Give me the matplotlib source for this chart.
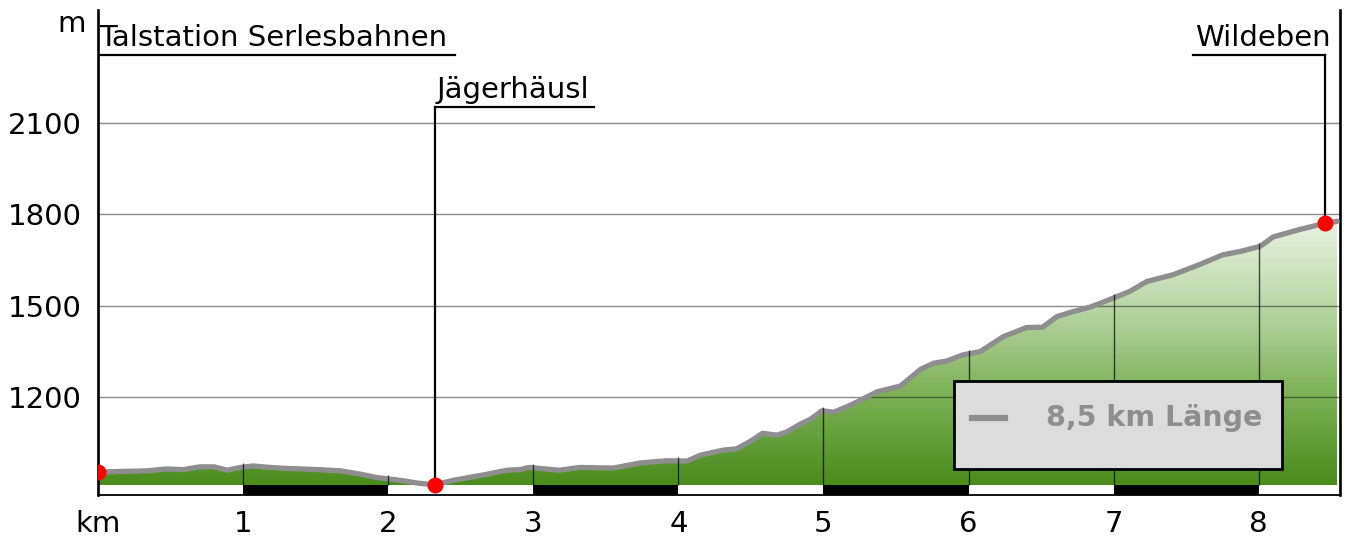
import numpy as np
import matplotlib
matplotlib.use("Agg")
import matplotlib.pyplot as plt
from matplotlib.patches import Rectangle
from matplotlib.colors import LinearSegmentedColormap

# Höhenprofil: Distanz in km, Höhe in m
km = [0.00, 0.17, 0.34, 0.47, 0.59, 0.70, 0.80, 0.89, 0.98, 1.07, 1.16, 1.25,
      1.35, 1.51, 1.67, 1.81, 1.92, 2.08, 2.20, 2.32, 2.45, 2.65, 2.82, 2.91,
      2.97, 3.18, 3.32, 3.55, 3.74, 3.92, 4.06, 4.15, 4.31, 4.40, 4.49, 4.58,
      4.68, 4.75, 4.84, 4.91, 4.99, 5.07, 5.19, 5.37, 5.53, 5.67, 5.76, 5.85,
      5.96, 6.08, 6.24, 6.40, 6.51, 6.61, 6.72, 6.84, 6.97, 7.11, 7.23, 7.41,
      7.59, 7.75, 7.87, 8.01, 8.10, 8.28, 8.46, 8.54]
hoehe = [954, 956, 958, 964, 962, 971, 971, 960, 969, 974, 970, 967,
         965, 962, 958, 947, 936, 927, 918, 912, 927, 944, 960, 962,
         969, 960, 969, 967, 984, 991, 990, 1009, 1026, 1030, 1053, 1081,
         1075, 1086, 1111, 1127, 1155, 1150, 1174, 1217, 1236, 1291, 1311, 1318,
         1338, 1349, 1398, 1428, 1429, 1464, 1480, 1495, 1519, 1546, 1579, 1601,
         1634, 1666, 1677, 1694, 1725, 1749, 1770, 1776]

orte = ["Talstation Serlesbahnen", "Jägerhäusl", "Wildeben"]
orte_km = [0.0, 2.32, 8.46]
orte_hoehe = [954, 912, 1770]

y_ticks = [1200, 1500, 1800, 2100]
x_ticks = [0, 1, 2, 3, 4, 5, 6, 7, 8]
x_labels = ["km", "1", "2", "3", "4", "5", "6", "7", "8"]
laenge_text = "8,5 km Länge"

# Layout
X_MAX = 8.56
Y_MIN, Y_MAX = 878.7, 2469
BODEN = 910
FS = 21
# Beschriftungslinien: (links, rechts, Höhe)
links = [(0.0, 2.46, 2321), (2.32, 3.42, 2151), (7.55, 8.46, 2321)]

fig = plt.figure(figsize=(13.45, 5.41), dpi=100)
ax = fig.add_axes([98 / 1345, 46 / 541, 1242 / 1345, 485 / 541])
ax.set_xlim(0, X_MAX)
ax.set_ylim(Y_MIN, Y_MAX)

# Farbverlauf unter dem Profil
fl = ax.fill_between(km, hoehe, BODEN, color="none", lw=0)
cmap = LinearSegmentedColormap.from_list("gr", ["#4a8c1c", "#7bb055", "#b9d6a5", "#eaf3e4"])
grad = np.linspace(0, 1, 256).reshape(-1, 1)
img = ax.imshow(grad, cmap=cmap, origin="lower", aspect="auto",
                extent=[0, max(km), BODEN, 1785], zorder=1, interpolation="bilinear")
img.set_clip_path(fl.get_paths()[0], transform=ax.transData)
ax.set_xlim(0, X_MAX)
ax.set_ylim(Y_MIN, Y_MAX)

# Gitter
ax.hlines(y_ticks, 0, X_MAX, color="black", alpha=0.45, lw=1, zorder=3)
for k in x_ticks[1:]:
    h = np.interp(k, km, hoehe)
    ax.vlines(k, BODEN, h + 12, color="black", alpha=0.7, lw=1, zorder=5)

# Profil
ax.plot(km, hoehe, color="#8e8e8e", lw=3.8, solid_capstyle="round",
        solid_joinstyle="round", zorder=4)

# Maßstabsleiste
for k in x_ticks[1::2]:
    ax.bar(k, BODEN - Y_MIN, bottom=Y_MIN, width=1, align="edge",
           color="black", lw=0, zorder=2)

# Orte
for name, ox, oh, (x0, x1, lev) in zip(orte, orte_km, orte_hoehe, links):
    ax.plot([ox, ox], [oh, lev], color="black", lw=1.6, zorder=5)
    ax.plot([x0, x1], [lev, lev], color="black", lw=1.6, zorder=5)
    ax.text(x0 + 0.01, lev + 30, name, fontsize=FS, va="baseline", ha="left")
ax.plot(orte_km, orte_hoehe, "o", color="#ff0000", ms=11.5, mec="none", zorder=6)

# Legende
ax.add_patch(Rectangle((0.689, 0.0536), 0.264, 0.1814, transform=ax.transAxes,
                       fc="#dcdcdc", ec="black", lw=2, zorder=7))
ax.plot([0.704, 0.730], [0.159, 0.159], transform=ax.transAxes, color="#8e8e8e",
        lw=4.5, zorder=8)
ax.text(0.763, 0.159, laenge_text, transform=ax.transAxes, fontsize=20.5,
        fontweight="bold", color="#8e8e8e", va="center", ha="left", zorder=8)

# Achsen
ax.set_yticks(y_ticks)
ax.set_yticklabels([str(v) for v in y_ticks], fontsize=FS)
ax.set_xticks(x_ticks)
ax.set_xticklabels(x_labels, fontsize=FS)
ax.tick_params(axis="y", length=0, pad=12)
ax.tick_params(axis="x", length=0, pad=11)
ax.text(-12.5 / 145.1, 2423, "m", fontsize=FS, ha="right", va="center")
ax.spines["top"].set_visible(False)
for s in ["left", "right"]:
    ax.spines[s].set_linewidth(1.9)
ax.spines["bottom"].set_linewidth(1.3)

fig.savefig("out.png", dpi=100)
